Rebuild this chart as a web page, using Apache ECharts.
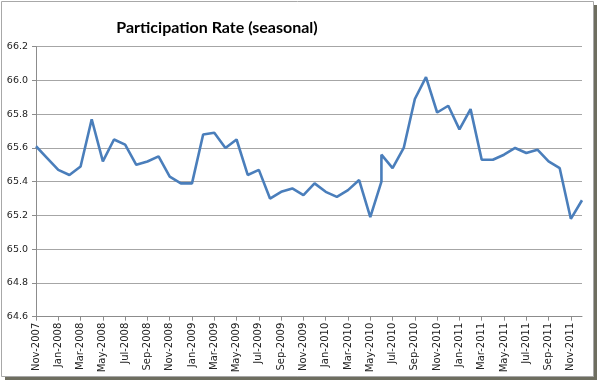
<!DOCTYPE html>
<html>
<head>
<meta charset="utf-8">
<script src="https://cdn.jsdelivr.net/npm/echarts@6/dist/echarts.min.js"></script>
<style>html,body{margin:0;padding:0;background:#fff;}#c{width:599px;height:381px;}</style>
</head>
<body>
<div id="c"></div>
<script>
var titleText = 'Participation Rate (seasonal)';
var months = ['Nov-2007','Dec-2007','Jan-2008','Feb-2008','Mar-2008','Apr-2008','May-2008','Jun-2008','Jul-2008','Aug-2008','Sep-2008','Oct-2008','Nov-2008','Dec-2008','Jan-2009','Feb-2009','Mar-2009','Apr-2009','May-2009','Jun-2009','Jul-2009','Aug-2009','Sep-2009','Oct-2009','Nov-2009','Dec-2009','Jan-2010','Feb-2010','Mar-2010','Apr-2010','May-2010','Jun-2010','Jul-2010','Aug-2010','Sep-2010','Oct-2010','Nov-2010','Dec-2010','Jan-2011','Feb-2011','Mar-2011','Apr-2011','May-2011','Jun-2011','Jul-2011','Aug-2011','Sep-2011','Oct-2011','Nov-2011','Dec-2011'];
// observation months (Jun-2010 appears twice in the source)
var obsMonths = ['Nov-2007','Dec-2007','Jan-2008','Feb-2008','Mar-2008','Apr-2008','May-2008','Jun-2008','Jul-2008','Aug-2008','Sep-2008','Oct-2008','Nov-2008','Dec-2008','Jan-2009','Feb-2009','Mar-2009','Apr-2009','May-2009','Jun-2009','Jul-2009','Aug-2009','Sep-2009','Oct-2009','Nov-2009','Dec-2009','Jan-2010','Feb-2010','Mar-2010','Apr-2010','May-2010','Jun-2010','Jun-2010','Jul-2010','Aug-2010','Sep-2010','Oct-2010','Nov-2010','Dec-2010','Jan-2011','Feb-2011','Mar-2011','Apr-2011','May-2011','Jun-2011','Jul-2011','Aug-2011','Sep-2011','Oct-2011','Nov-2011','Dec-2011'];
var rate = [65.61,65.54,65.47,65.44,65.49,65.77,65.52,65.65,65.62,65.50,65.52,65.55,65.43,65.39,65.39,65.68,65.69,65.60,65.65,65.44,65.47,65.30,65.34,65.36,65.32,65.39,65.34,65.31,65.35,65.41,65.19,65.40,65.56,65.48,65.60,65.89,66.02,65.81,65.85,65.71,65.83,65.53,65.53,65.56,65.60,65.57,65.59,65.52,65.48,65.18,65.29];
var yMin = 64.6, yMax = 66.2, yStep = 0.2;

var data = obsMonths.map(function (m, i) { return [m, rate[i]]; });
var chart = echarts.init(document.getElementById('c'), null, {renderer: 'canvas'});
chart.setOption({
  animation: false,
  backgroundColor: '#fff',
  graphic: [
    {type: 'rect', z: -10, shape: {x: 5, y: 5, width: 592, height: 375}, style: {fill: '#6e6e60'}},
    {type: 'rect', z: -9, shape: {x: 1.5, y: 1.5, width: 592, height: 375}, style: {fill: '#fff', stroke: '#a8a8a8', lineWidth: 1}}
  ],
  title: {
    text: titleText, left: 212, top: 15, textAlign: 'center',
    textStyle: {fontFamily: 'Lato', fontWeight: 'bold', fontSize: 16, color: '#000'}
  },
  grid: {left: 36, right: 17, top: 46.7, bottom: 64.3, containLabel: false},
  xAxis: {
    type: 'category', data: months, boundaryGap: false,
    axisLine: {lineStyle: {color: '#8c8c8c', width: 1}},
    axisTick: {show: true, interval: 1, length: 4, lineStyle: {color: '#8c8c8c'}},
    axisLabel: {interval: 1, rotate: 90, margin: 6, fontFamily: 'DejaVu Sans', fontSize: 10, color: '#222'},
    splitLine: {show: false}
  },
  yAxis: {
    type: 'value', min: yMin, max: yMax, interval: yStep,
    axisLine: {show: true, lineStyle: {color: '#8c8c8c', width: 1}},
    axisTick: {show: true, inside: false, length: 4, lineStyle: {color: '#8c8c8c'}},
    axisLabel: {margin: 8, fontFamily: 'DejaVu Sans', fontSize: 9.5, color: '#222', formatter: function (v) { return v.toFixed(1); }},
    splitLine: {show: true, lineStyle: {color: '#a6a6a6', width: 1}}
  },
  series: [{
    type: 'line', data: data, showSymbol: false, symbol: 'none',
    lineStyle: {color: '#4a7ebb', width: 2.6}, itemStyle: {color: '#4a7ebb'}
  }]
});
</script>
</body>
</html>
